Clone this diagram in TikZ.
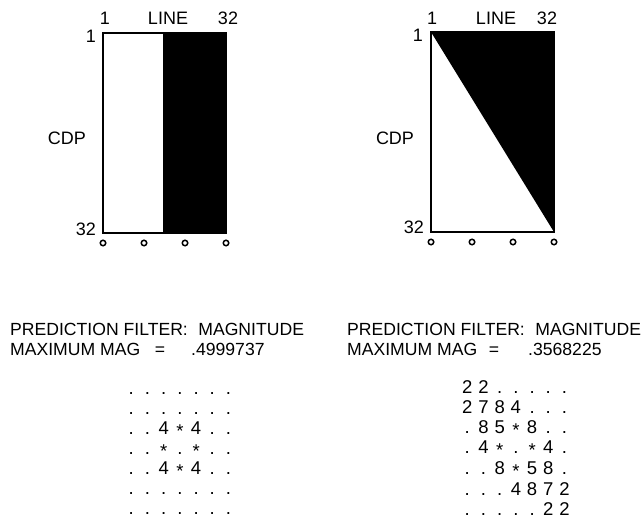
\documentclass[tikz,border=0pt]{standalone}
\usepackage{fontspec}
\setmainfont{Liberation Sans}
\usetikzlibrary{positioning}
\newcommand{\mcell}[1]{\makebox[16.2pt]{#1}}
\newcommand{\mstar}{\raisebox{-0.2em}[0pt][0pt]{*}}
\tikzset{
  lbl/.style={font=\fontsize{18}{21}\selectfont, inner sep=0pt},
  head/.style={font=\fontsize{17.6}{21}\selectfont, inner sep=0pt, anchor=base west},
  mrow/.style={font=\fontsize{18.5}{21}\selectfont, inner sep=0pt, anchor=base west},
  tick/.style={circle, draw, line width=1.5pt, inner sep=0pt, minimum size=5.5pt},
  frame/.style={line width=1.4pt}
}
\begin{document}
\begin{tikzpicture}[x=1pt, y=-1pt]
  \useasboundingbox (0,0) rectangle (642,518);

  % Left section: split half white / half black
  \fill[black] (163,33) rectangle (226,233);
  \draw[frame] (103,33) rectangle (226,233);
  \node[lbl, anchor=base] (ltop1) at (105,25) {1};
  \node[lbl, anchor=base] (lline) at (168,25) {LINE};
  \node[lbl, anchor=base] (ltop32) at (228,25) {32};
  \node[lbl, anchor=base east] (lside1) at (96,43) {1};
  \node[lbl] (lcdp) at (67,138) {CDP};
  \node[lbl, anchor=base east] (lside32) at (96,236) {32};
  \node[tick] (lt1) at (103,243) {};
  \node[tick] (lt2) at (144,243) {};
  \node[tick] (lt3) at (185,243) {};
  \node[tick] (lt4) at (226,243) {};

  % Right section: dipping black triangle
  \fill[black] (431,32) -- (554,32) -- (554,232) -- cycle;
  \draw[frame] (431,32) rectangle (554,232);
  \node[lbl, anchor=base] (rtop1) at (432,25) {1};
  \node[lbl, anchor=base] (rline) at (496,25) {LINE};
  \node[lbl, anchor=base] (rtop32) at (547,25) {32};
  \node[lbl, anchor=base east] (rside1) at (423,42) {1};
  \node[lbl] (rcdp) at (395,138) {CDP};
  \node[lbl, anchor=base east] (rside32) at (424,234) {32};
  \node[tick] (rt1) at (431,242) {};
  \node[tick] (rt2) at (472,242) {};
  \node[tick] (rt3) at (513,242) {};
  \node[tick] (rt4) at (554,242) {};

  % Filter headings
  \node[head] (lhead) at (10,335) {PREDICTION FILTER:\hspace{0.6em}MAGNITUDE};
  \node[head] (lmax) at (10,355) {MAXIMUM MAG};
  \node[head, anchor=base] (leq) at (160,355) {=};
  \node[head] (lval) at (191,355) {.4999737};
  \node[head] (rhead) at (347,335) {PREDICTION FILTER:\hspace{0.6em}MAGNITUDE};
  \node[head] (rmax) at (347,355) {MAXIMUM MAG};
  \node[head, anchor=base] (req) at (494,355) {=};
  \node[head] (rval) at (528,355) {.3568225};

  % Magnitude matrices
  \node[mrow] (lm1) at (123,394) {\mcell{.}\mcell{.}\mcell{.}\mcell{.}\mcell{.}\mcell{.}\mcell{.}};
  \node[mrow] (lm2) at (123,414) {\mcell{.}\mcell{.}\mcell{.}\mcell{.}\mcell{.}\mcell{.}\mcell{.}};
  \node[mrow] (lm3) at (123,434) {\mcell{.}\mcell{.}\mcell{4}\mcell{\mstar}\mcell{4}\mcell{.}\mcell{.}};
  \node[mrow] (lm4) at (123,454) {\mcell{.}\mcell{.}\mcell{\mstar}\mcell{.}\mcell{\mstar}\mcell{.}\mcell{.}};
  \node[mrow] (lm5) at (123,474) {\mcell{.}\mcell{.}\mcell{4}\mcell{\mstar}\mcell{4}\mcell{.}\mcell{.}};
  \node[mrow] (lm6) at (123,494) {\mcell{.}\mcell{.}\mcell{.}\mcell{.}\mcell{.}\mcell{.}\mcell{.}};
  \node[mrow] (lm7) at (123,514) {\mcell{.}\mcell{.}\mcell{.}\mcell{.}\mcell{.}\mcell{.}\mcell{.}};

  \node[mrow] (rm1) at (459,393) {\mcell{2}\mcell{2}\mcell{.}\mcell{.}\mcell{.}\mcell{.}\mcell{.}};
  \node[mrow] (rm2) at (459,413) {\mcell{2}\mcell{7}\mcell{8}\mcell{4}\mcell{.}\mcell{.}\mcell{.}};
  \node[mrow] (rm3) at (459,433) {\mcell{.}\mcell{8}\mcell{5}\mcell{\mstar}\mcell{8}\mcell{.}\mcell{.}};
  \node[mrow] (rm4) at (459,453) {\mcell{.}\mcell{4}\mcell{\mstar}\mcell{.}\mcell{\mstar}\mcell{4}\mcell{.}};
  \node[mrow] (rm5) at (459,474) {\mcell{.}\mcell{.}\mcell{8}\mcell{\mstar}\mcell{5}\mcell{8}\mcell{.}};
  \node[mrow] (rm6) at (459,495) {\mcell{.}\mcell{.}\mcell{.}\mcell{4}\mcell{8}\mcell{7}\mcell{2}};
  \node[mrow] (rm7) at (459,515) {\mcell{.}\mcell{.}\mcell{.}\mcell{.}\mcell{.}\mcell{2}\mcell{2}};
\end{tikzpicture}
\end{document}
